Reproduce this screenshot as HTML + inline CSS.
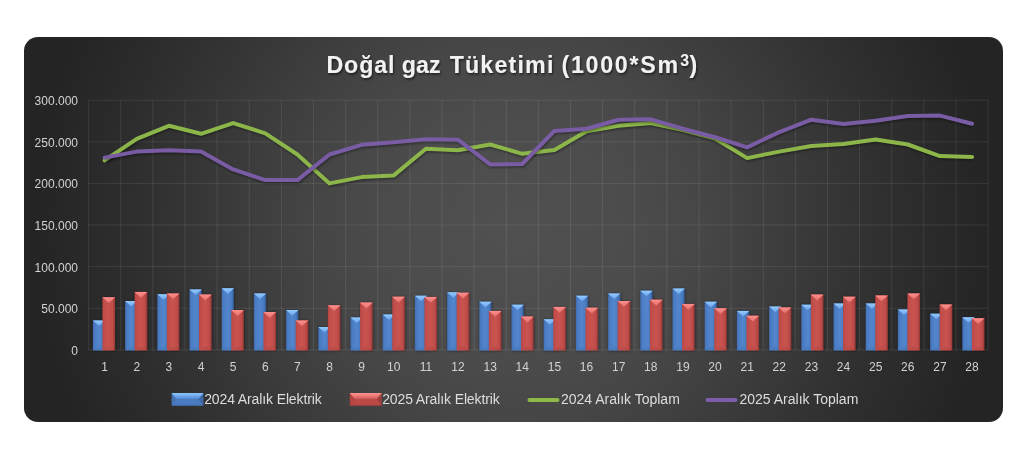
<!DOCTYPE html>
<html><head><meta charset="utf-8"><style>
html,body{margin:0;padding:0;background:#fff;width:1024px;height:471px;overflow:hidden}
svg{display:block;font-family:"Liberation Sans",sans-serif;filter:blur(0.3px)}
.ax text{font-size:12px;fill:#d2d2d2}
.lg text{font-size:14px;fill:#dcdcdc}
.tt{font-size:23.2px;font-weight:bold;fill:#f2f2f2}
</style></head><body>
<svg width="1024" height="471" viewBox="0 0 1024 471">
<defs>
<radialGradient id="bg" gradientUnits="userSpaceOnUse" cx="513.5" cy="229.5" r="480">
<stop offset="0" stop-color="#505050"/>
<stop offset="0.25" stop-color="#4c4c4c"/>
<stop offset="0.4" stop-color="#464646"/>
<stop offset="0.6" stop-color="#3a3a3a"/>
<stop offset="0.8" stop-color="#2e2e2e"/>
<stop offset="1" stop-color="#242424"/>
</radialGradient>
<linearGradient id="bf" x1="0" x2="1" y1="0" y2="0">
<stop offset="0" stop-color="#426fb4"/><stop offset="0.15" stop-color="#4b7cc4"/><stop offset="0.5" stop-color="#5386cc"/><stop offset="0.8" stop-color="#4a7bc2"/><stop offset="0.92" stop-color="#3d68a8"/><stop offset="1" stop-color="#2f5690"/>
</linearGradient>
<linearGradient id="rf" x1="0" x2="1" y1="0" y2="0">
<stop offset="0" stop-color="#b44643"/><stop offset="0.15" stop-color="#c24e4b"/><stop offset="0.5" stop-color="#c9534f"/><stop offset="0.8" stop-color="#bf4d4a"/><stop offset="0.92" stop-color="#a8413e"/><stop offset="1" stop-color="#8e3533"/>
</linearGradient>
<linearGradient id="bl" x1="0" x2="0" y1="0" y2="1">
<stop offset="0" stop-color="#92ccff"/><stop offset="1" stop-color="#6aa2ea"/>
</linearGradient>
<linearGradient id="rl" x1="0" x2="0" y1="0" y2="1">
<stop offset="0" stop-color="#ff8f8c"/><stop offset="1" stop-color="#e4706d"/>
</linearGradient>
<filter id="bsh" x="-5%" y="-5%" width="110%" height="110%"><feDropShadow dx="0.3" dy="0.3" stdDeviation="0.8" flood-color="#000" flood-opacity="0.55"/></filter>
<linearGradient id="bs" x1="0" x2="0" y1="0" y2="1"><stop offset="0" stop-color="#8cc4ff"/><stop offset="0.35" stop-color="#7ab2f4"/><stop offset="1" stop-color="#5288d0"/></linearGradient>
<linearGradient id="rs" x1="0" x2="0" y1="0" y2="1"><stop offset="0" stop-color="#ff8f8d"/><stop offset="0.35" stop-color="#f48280"/><stop offset="1" stop-color="#cc5956"/></linearGradient>
<filter id="gs"><feOffset dx="0" dy="0"/></filter>
<filter id="blur" x="-10%" y="-50%" width="120%" height="200%"><feGaussianBlur stdDeviation="1"/></filter>
<filter id="tsh" x="-5%" y="-30%" width="110%" height="160%"><feDropShadow dx="1" dy="1.5" stdDeviation="1" flood-color="#000" flood-opacity="0.6"/></filter>
</defs>
<rect x="24" y="37" width="979" height="385" rx="14" ry="14" fill="url(#bg)"/>
<path d="M88.60 100.2V349.9 M120.72 100.2V349.9 M152.85 100.2V349.9 M184.97 100.2V349.9 M217.10 100.2V349.9 M249.22 100.2V349.9 M281.35 100.2V349.9 M313.48 100.2V349.9 M345.60 100.2V349.9 M377.73 100.2V349.9 M409.85 100.2V349.9 M441.98 100.2V349.9 M474.10 100.2V349.9 M506.23 100.2V349.9 M538.35 100.2V349.9 M570.48 100.2V349.9 M602.60 100.2V349.9 M634.73 100.2V349.9 M666.85 100.2V349.9 M698.98 100.2V349.9 M731.10 100.2V349.9 M763.23 100.2V349.9 M795.35 100.2V349.9 M827.48 100.2V349.9 M859.60 100.2V349.9 M891.73 100.2V349.9 M923.85 100.2V349.9 M955.98 100.2V349.9 M988.10 100.2V349.9 M88.6 100.20H988.1 M88.6 141.82H988.1 M88.6 183.43H988.1 M88.6 225.05H988.1 M88.6 266.67H988.1 M88.6 308.28H988.1 M88.6 349.90H988.1" stroke="#ffffff" stroke-opacity="0.09" stroke-width="1" fill="none"/><g filter="url(#bsh)"><rect x="92.95" y="320.40" width="12.20" height="30.10" fill="url(#bf)"/><polygon points="92.95,320.40 105.15,320.40 99.05,326.01" fill="url(#bl)"/><polygon points="93.95,350.50 104.15,350.50 99.05,346.01" fill="#000" fill-opacity="0.05"/><rect x="125.15" y="301.00" width="12.20" height="49.50" fill="url(#bf)"/><polygon points="125.15,301.00 137.35,301.00 131.25,306.61" fill="url(#bl)"/><polygon points="126.15,350.50 136.35,350.50 131.25,346.01" fill="#000" fill-opacity="0.05"/><rect x="157.35" y="294.30" width="12.20" height="56.20" fill="url(#bf)"/><polygon points="157.35,294.30 169.55,294.30 163.45,299.91" fill="url(#bl)"/><polygon points="158.35,350.50 168.55,350.50 163.45,346.01" fill="#000" fill-opacity="0.05"/><rect x="189.55" y="289.40" width="12.20" height="61.10" fill="url(#bf)"/><polygon points="189.55,289.40 201.75,289.40 195.65,295.01" fill="url(#bl)"/><polygon points="190.55,350.50 200.75,350.50 195.65,346.01" fill="#000" fill-opacity="0.05"/><rect x="221.75" y="288.30" width="12.20" height="62.20" fill="url(#bf)"/><polygon points="221.75,288.30 233.95,288.30 227.85,293.91" fill="url(#bl)"/><polygon points="222.75,350.50 232.95,350.50 227.85,346.01" fill="#000" fill-opacity="0.05"/><rect x="253.95" y="293.40" width="12.20" height="57.10" fill="url(#bf)"/><polygon points="253.95,293.40 266.15,293.40 260.05,299.01" fill="url(#bl)"/><polygon points="254.95,350.50 265.15,350.50 260.05,346.01" fill="#000" fill-opacity="0.05"/><rect x="286.15" y="310.10" width="12.20" height="40.40" fill="url(#bf)"/><polygon points="286.15,310.10 298.35,310.10 292.25,315.71" fill="url(#bl)"/><polygon points="287.15,350.50 297.35,350.50 292.25,346.01" fill="#000" fill-opacity="0.05"/><rect x="318.35" y="327.00" width="12.20" height="23.50" fill="url(#bf)"/><polygon points="318.35,327.00 330.55,327.00 324.45,332.61" fill="url(#bl)"/><polygon points="319.35,350.50 329.55,350.50 324.45,346.01" fill="#000" fill-opacity="0.05"/><rect x="350.55" y="317.40" width="12.20" height="33.10" fill="url(#bf)"/><polygon points="350.55,317.40 362.75,317.40 356.65,323.01" fill="url(#bl)"/><polygon points="351.55,350.50 361.75,350.50 356.65,346.01" fill="#000" fill-opacity="0.05"/><rect x="382.75" y="314.50" width="12.20" height="36.00" fill="url(#bf)"/><polygon points="382.75,314.50 394.95,314.50 388.85,320.11" fill="url(#bl)"/><polygon points="383.75,350.50 393.95,350.50 388.85,346.01" fill="#000" fill-opacity="0.05"/><rect x="414.95" y="295.70" width="12.20" height="54.80" fill="url(#bf)"/><polygon points="414.95,295.70 427.15,295.70 421.05,301.31" fill="url(#bl)"/><polygon points="415.95,350.50 426.15,350.50 421.05,346.01" fill="#000" fill-opacity="0.05"/><rect x="447.15" y="292.20" width="12.20" height="58.30" fill="url(#bf)"/><polygon points="447.15,292.20 459.35,292.20 453.25,297.81" fill="url(#bl)"/><polygon points="448.15,350.50 458.35,350.50 453.25,346.01" fill="#000" fill-opacity="0.05"/><rect x="479.35" y="301.80" width="12.20" height="48.70" fill="url(#bf)"/><polygon points="479.35,301.80 491.55,301.80 485.45,307.41" fill="url(#bl)"/><polygon points="480.35,350.50 490.55,350.50 485.45,346.01" fill="#000" fill-opacity="0.05"/><rect x="511.55" y="304.70" width="12.20" height="45.80" fill="url(#bf)"/><polygon points="511.55,304.70 523.75,304.70 517.65,310.31" fill="url(#bl)"/><polygon points="512.55,350.50 522.75,350.50 517.65,346.01" fill="#000" fill-opacity="0.05"/><rect x="543.75" y="319.30" width="12.20" height="31.20" fill="url(#bf)"/><polygon points="543.75,319.30 555.95,319.30 549.85,324.91" fill="url(#bl)"/><polygon points="544.75,350.50 554.95,350.50 549.85,346.01" fill="#000" fill-opacity="0.05"/><rect x="575.95" y="295.70" width="12.20" height="54.80" fill="url(#bf)"/><polygon points="575.95,295.70 588.15,295.70 582.05,301.31" fill="url(#bl)"/><polygon points="576.95,350.50 587.15,350.50 582.05,346.01" fill="#000" fill-opacity="0.05"/><rect x="608.15" y="293.50" width="12.20" height="57.00" fill="url(#bf)"/><polygon points="608.15,293.50 620.35,293.50 614.25,299.11" fill="url(#bl)"/><polygon points="609.15,350.50 619.35,350.50 614.25,346.01" fill="#000" fill-opacity="0.05"/><rect x="640.35" y="290.70" width="12.20" height="59.80" fill="url(#bf)"/><polygon points="640.35,290.70 652.55,290.70 646.45,296.31" fill="url(#bl)"/><polygon points="641.35,350.50 651.55,350.50 646.45,346.01" fill="#000" fill-opacity="0.05"/><rect x="672.55" y="288.60" width="12.20" height="61.90" fill="url(#bf)"/><polygon points="672.55,288.60 684.75,288.60 678.65,294.21" fill="url(#bl)"/><polygon points="673.55,350.50 683.75,350.50 678.65,346.01" fill="#000" fill-opacity="0.05"/><rect x="704.75" y="301.80" width="12.20" height="48.70" fill="url(#bf)"/><polygon points="704.75,301.80 716.95,301.80 710.85,307.41" fill="url(#bl)"/><polygon points="705.75,350.50 715.95,350.50 710.85,346.01" fill="#000" fill-opacity="0.05"/><rect x="736.95" y="310.90" width="12.20" height="39.60" fill="url(#bf)"/><polygon points="736.95,310.90 749.15,310.90 743.05,316.51" fill="url(#bl)"/><polygon points="737.95,350.50 748.15,350.50 743.05,346.01" fill="#000" fill-opacity="0.05"/><rect x="769.15" y="306.60" width="12.20" height="43.90" fill="url(#bf)"/><polygon points="769.15,306.60 781.35,306.60 775.25,312.21" fill="url(#bl)"/><polygon points="770.15,350.50 780.35,350.50 775.25,346.01" fill="#000" fill-opacity="0.05"/><rect x="801.35" y="304.70" width="12.20" height="45.80" fill="url(#bf)"/><polygon points="801.35,304.70 813.55,304.70 807.45,310.31" fill="url(#bl)"/><polygon points="802.35,350.50 812.55,350.50 807.45,346.01" fill="#000" fill-opacity="0.05"/><rect x="833.55" y="303.40" width="12.20" height="47.10" fill="url(#bf)"/><polygon points="833.55,303.40 845.75,303.40 839.65,309.01" fill="url(#bl)"/><polygon points="834.55,350.50 844.75,350.50 839.65,346.01" fill="#000" fill-opacity="0.05"/><rect x="865.75" y="303.40" width="12.20" height="47.10" fill="url(#bf)"/><polygon points="865.75,303.40 877.95,303.40 871.85,309.01" fill="url(#bl)"/><polygon points="866.75,350.50 876.95,350.50 871.85,346.01" fill="#000" fill-opacity="0.05"/><rect x="897.95" y="309.40" width="12.20" height="41.10" fill="url(#bf)"/><polygon points="897.95,309.40 910.15,309.40 904.05,315.01" fill="url(#bl)"/><polygon points="898.95,350.50 909.15,350.50 904.05,346.01" fill="#000" fill-opacity="0.05"/><rect x="930.15" y="313.70" width="12.20" height="36.80" fill="url(#bf)"/><polygon points="930.15,313.70 942.35,313.70 936.25,319.31" fill="url(#bl)"/><polygon points="931.15,350.50 941.35,350.50 936.25,346.01" fill="#000" fill-opacity="0.05"/><rect x="962.35" y="317.20" width="12.20" height="33.30" fill="url(#bf)"/><polygon points="962.35,317.20 974.55,317.20 968.45,322.81" fill="url(#bl)"/><polygon points="963.35,350.50 973.55,350.50 968.45,346.01" fill="#000" fill-opacity="0.05"/><rect x="102.45" y="297.30" width="12.60" height="53.20" fill="url(#rf)"/><polygon points="102.45,297.30 115.05,297.30 108.75,303.10" fill="url(#rl)"/><polygon points="103.45,350.50 114.05,350.50 108.75,345.86" fill="#000" fill-opacity="0.05"/><rect x="134.65" y="291.90" width="12.60" height="58.60" fill="url(#rf)"/><polygon points="134.65,291.90 147.25,291.90 140.95,297.70" fill="url(#rl)"/><polygon points="135.65,350.50 146.25,350.50 140.95,345.86" fill="#000" fill-opacity="0.05"/><rect x="166.85" y="293.40" width="12.60" height="57.10" fill="url(#rf)"/><polygon points="166.85,293.40 179.45,293.40 173.15,299.20" fill="url(#rl)"/><polygon points="167.85,350.50 178.45,350.50 173.15,345.86" fill="#000" fill-opacity="0.05"/><rect x="199.05" y="294.60" width="12.60" height="55.90" fill="url(#rf)"/><polygon points="199.05,294.60 211.65,294.60 205.35,300.40" fill="url(#rl)"/><polygon points="200.05,350.50 210.65,350.50 205.35,345.86" fill="#000" fill-opacity="0.05"/><rect x="231.25" y="310.10" width="12.60" height="40.40" fill="url(#rf)"/><polygon points="231.25,310.10 243.85,310.10 237.55,315.90" fill="url(#rl)"/><polygon points="232.25,350.50 242.85,350.50 237.55,345.86" fill="#000" fill-opacity="0.05"/><rect x="263.45" y="312.10" width="12.60" height="38.40" fill="url(#rf)"/><polygon points="263.45,312.10 276.05,312.10 269.75,317.90" fill="url(#rl)"/><polygon points="264.45,350.50 275.05,350.50 269.75,345.86" fill="#000" fill-opacity="0.05"/><rect x="295.65" y="320.40" width="12.60" height="30.10" fill="url(#rf)"/><polygon points="295.65,320.40 308.25,320.40 301.95,326.20" fill="url(#rl)"/><polygon points="296.65,350.50 307.25,350.50 301.95,345.86" fill="#000" fill-opacity="0.05"/><rect x="327.85" y="305.30" width="12.60" height="45.20" fill="url(#rf)"/><polygon points="327.85,305.30 340.45,305.30 334.15,311.10" fill="url(#rl)"/><polygon points="328.85,350.50 339.45,350.50 334.15,345.86" fill="#000" fill-opacity="0.05"/><rect x="360.05" y="302.60" width="12.60" height="47.90" fill="url(#rf)"/><polygon points="360.05,302.60 372.65,302.60 366.35,308.40" fill="url(#rl)"/><polygon points="361.05,350.50 371.65,350.50 366.35,345.86" fill="#000" fill-opacity="0.05"/><rect x="392.25" y="296.70" width="12.60" height="53.80" fill="url(#rf)"/><polygon points="392.25,296.70 404.85,296.70 398.55,302.50" fill="url(#rl)"/><polygon points="393.25,350.50 403.85,350.50 398.55,345.86" fill="#000" fill-opacity="0.05"/><rect x="424.45" y="296.90" width="12.60" height="53.60" fill="url(#rf)"/><polygon points="424.45,296.90 437.05,296.90 430.75,302.70" fill="url(#rl)"/><polygon points="425.45,350.50 436.05,350.50 430.75,345.86" fill="#000" fill-opacity="0.05"/><rect x="456.65" y="292.70" width="12.60" height="57.80" fill="url(#rf)"/><polygon points="456.65,292.70 469.25,292.70 462.95,298.50" fill="url(#rl)"/><polygon points="457.65,350.50 468.25,350.50 462.95,345.86" fill="#000" fill-opacity="0.05"/><rect x="488.85" y="310.90" width="12.60" height="39.60" fill="url(#rf)"/><polygon points="488.85,310.90 501.45,310.90 495.15,316.70" fill="url(#rl)"/><polygon points="489.85,350.50 500.45,350.50 495.15,345.86" fill="#000" fill-opacity="0.05"/><rect x="521.05" y="316.60" width="12.60" height="33.90" fill="url(#rf)"/><polygon points="521.05,316.60 533.65,316.60 527.35,322.40" fill="url(#rl)"/><polygon points="522.05,350.50 532.65,350.50 527.35,345.86" fill="#000" fill-opacity="0.05"/><rect x="553.25" y="306.90" width="12.60" height="43.60" fill="url(#rf)"/><polygon points="553.25,306.90 565.85,306.90 559.55,312.70" fill="url(#rl)"/><polygon points="554.25,350.50 564.85,350.50 559.55,345.86" fill="#000" fill-opacity="0.05"/><rect x="585.45" y="307.70" width="12.60" height="42.80" fill="url(#rf)"/><polygon points="585.45,307.70 598.05,307.70 591.75,313.50" fill="url(#rl)"/><polygon points="586.45,350.50 597.05,350.50 591.75,345.86" fill="#000" fill-opacity="0.05"/><rect x="617.65" y="301.00" width="12.60" height="49.50" fill="url(#rf)"/><polygon points="617.65,301.00 630.25,301.00 623.95,306.80" fill="url(#rl)"/><polygon points="618.65,350.50 629.25,350.50 623.95,345.86" fill="#000" fill-opacity="0.05"/><rect x="649.85" y="299.70" width="12.60" height="50.80" fill="url(#rf)"/><polygon points="649.85,299.70 662.45,299.70 656.15,305.50" fill="url(#rl)"/><polygon points="650.85,350.50 661.45,350.50 656.15,345.86" fill="#000" fill-opacity="0.05"/><rect x="682.05" y="303.90" width="12.60" height="46.60" fill="url(#rf)"/><polygon points="682.05,303.90 694.65,303.90 688.35,309.70" fill="url(#rl)"/><polygon points="683.05,350.50 693.65,350.50 688.35,345.86" fill="#000" fill-opacity="0.05"/><rect x="714.25" y="308.20" width="12.60" height="42.30" fill="url(#rf)"/><polygon points="714.25,308.20 726.85,308.20 720.55,314.00" fill="url(#rl)"/><polygon points="715.25,350.50 725.85,350.50 720.55,345.86" fill="#000" fill-opacity="0.05"/><rect x="746.45" y="315.80" width="12.60" height="34.70" fill="url(#rf)"/><polygon points="746.45,315.80 759.05,315.80 752.75,321.60" fill="url(#rl)"/><polygon points="747.45,350.50 758.05,350.50 752.75,345.86" fill="#000" fill-opacity="0.05"/><rect x="778.65" y="307.40" width="12.60" height="43.10" fill="url(#rf)"/><polygon points="778.65,307.40 791.25,307.40 784.95,313.20" fill="url(#rl)"/><polygon points="779.65,350.50 790.25,350.50 784.95,345.86" fill="#000" fill-opacity="0.05"/><rect x="810.85" y="294.60" width="12.60" height="55.90" fill="url(#rf)"/><polygon points="810.85,294.60 823.45,294.60 817.15,300.40" fill="url(#rl)"/><polygon points="811.85,350.50 822.45,350.50 817.15,345.86" fill="#000" fill-opacity="0.05"/><rect x="843.05" y="296.70" width="12.60" height="53.80" fill="url(#rf)"/><polygon points="843.05,296.70 855.65,296.70 849.35,302.50" fill="url(#rl)"/><polygon points="844.05,350.50 854.65,350.50 849.35,345.86" fill="#000" fill-opacity="0.05"/><rect x="875.25" y="295.40" width="12.60" height="55.10" fill="url(#rf)"/><polygon points="875.25,295.40 887.85,295.40 881.55,301.20" fill="url(#rl)"/><polygon points="876.25,350.50 886.85,350.50 881.55,345.86" fill="#000" fill-opacity="0.05"/><rect x="907.45" y="293.50" width="12.60" height="57.00" fill="url(#rf)"/><polygon points="907.45,293.50 920.05,293.50 913.75,299.30" fill="url(#rl)"/><polygon points="908.45,350.50 919.05,350.50 913.75,345.86" fill="#000" fill-opacity="0.05"/><rect x="939.65" y="304.50" width="12.60" height="46.00" fill="url(#rf)"/><polygon points="939.65,304.50 952.25,304.50 945.95,310.30" fill="url(#rl)"/><polygon points="940.65,350.50 951.25,350.50 945.95,345.86" fill="#000" fill-opacity="0.05"/><rect x="971.85" y="318.20" width="12.60" height="32.30" fill="url(#rf)"/><polygon points="971.85,318.20 984.45,318.20 978.15,324.00" fill="url(#rl)"/><polygon points="972.85,350.50 983.45,350.50 978.15,345.86" fill="#000" fill-opacity="0.05"/></g><polyline points="104.66,160.40 136.79,138.90 168.91,125.80 201.04,133.80 233.16,123.10 265.29,133.30 297.41,154.50 329.54,183.40 361.66,177.10 393.79,175.40 425.91,148.70 458.04,150.30 490.16,144.50 522.29,153.80 554.41,149.90 586.54,131.20 618.66,125.80 650.79,123.10 682.91,130.00 715.04,138.50 747.16,158.10 779.29,151.60 811.41,146.00 843.54,144.00 875.66,139.60 907.79,144.50 939.91,156.10 972.04,156.90" fill="none" stroke="#000" stroke-opacity="0.35" stroke-width="4.2" stroke-linejoin="round" transform="translate(0.8,1.5)" filter="url(#blur)"/><polyline points="104.66,160.40 136.79,138.90 168.91,125.80 201.04,133.80 233.16,123.10 265.29,133.30 297.41,154.50 329.54,183.40 361.66,177.10 393.79,175.40 425.91,148.70 458.04,150.30 490.16,144.50 522.29,153.80 554.41,149.90 586.54,131.20 618.66,125.80 650.79,123.10 682.91,130.00 715.04,138.50 747.16,158.10 779.29,151.60 811.41,146.00 843.54,144.00 875.66,139.60 907.79,144.50 939.91,156.10 972.04,156.90" fill="none" stroke="#8cb64a" stroke-width="4" stroke-linejoin="round" stroke-linecap="round"/><polyline points="104.66,157.60 136.79,151.60 168.91,150.30 201.04,151.60 233.16,169.40 265.29,180.10 297.41,180.10 329.54,154.50 361.66,144.80 393.79,142.30 425.91,139.20 458.04,139.70 490.16,164.40 522.29,164.00 554.41,130.90 586.54,128.70 618.66,119.70 650.79,119.30 682.91,128.70 715.04,137.20 747.16,147.40 779.29,132.10 811.41,119.70 843.54,123.90 875.66,120.70 907.79,116.10 939.91,115.60 972.04,123.80" fill="none" stroke="#000" stroke-opacity="0.35" stroke-width="4.2" stroke-linejoin="round" transform="translate(0.8,1.5)" filter="url(#blur)"/><polyline points="104.66,157.60 136.79,151.60 168.91,150.30 201.04,151.60 233.16,169.40 265.29,180.10 297.41,180.10 329.54,154.50 361.66,144.80 393.79,142.30 425.91,139.20 458.04,139.70 490.16,164.40 522.29,164.00 554.41,130.90 586.54,128.70 618.66,119.70 650.79,119.30 682.91,128.70 715.04,137.20 747.16,147.40 779.29,132.10 811.41,119.70 843.54,123.90 875.66,120.70 907.79,116.10 939.91,115.60 972.04,123.80" fill="none" stroke="#7a5ca5" stroke-width="4" stroke-linejoin="round" stroke-linecap="round"/><g class="ax" filter="url(#gs)"><text x="78" y="105.2" text-anchor="end">300.000</text><text x="78" y="146.8" text-anchor="end">250.000</text><text x="78" y="188.4" text-anchor="end">200.000</text><text x="78" y="230.0" text-anchor="end">150.000</text><text x="78" y="271.7" text-anchor="end">100.000</text><text x="78" y="313.3" text-anchor="end">50.000</text><text x="78" y="354.9" text-anchor="end">0</text></g><g class="ax" filter="url(#gs)"><text x="104.7" y="371" text-anchor="middle">1</text><text x="136.8" y="371" text-anchor="middle">2</text><text x="168.9" y="371" text-anchor="middle">3</text><text x="201.0" y="371" text-anchor="middle">4</text><text x="233.2" y="371" text-anchor="middle">5</text><text x="265.3" y="371" text-anchor="middle">6</text><text x="297.4" y="371" text-anchor="middle">7</text><text x="329.5" y="371" text-anchor="middle">8</text><text x="361.7" y="371" text-anchor="middle">9</text><text x="393.8" y="371" text-anchor="middle">10</text><text x="425.9" y="371" text-anchor="middle">11</text><text x="458.0" y="371" text-anchor="middle">12</text><text x="490.2" y="371" text-anchor="middle">13</text><text x="522.3" y="371" text-anchor="middle">14</text><text x="554.4" y="371" text-anchor="middle">15</text><text x="586.5" y="371" text-anchor="middle">16</text><text x="618.7" y="371" text-anchor="middle">17</text><text x="650.8" y="371" text-anchor="middle">18</text><text x="682.9" y="371" text-anchor="middle">19</text><text x="715.0" y="371" text-anchor="middle">20</text><text x="747.2" y="371" text-anchor="middle">21</text><text x="779.3" y="371" text-anchor="middle">22</text><text x="811.4" y="371" text-anchor="middle">23</text><text x="843.5" y="371" text-anchor="middle">24</text><text x="875.7" y="371" text-anchor="middle">25</text><text x="907.8" y="371" text-anchor="middle">26</text><text x="939.9" y="371" text-anchor="middle">27</text><text x="972.0" y="371" text-anchor="middle">28</text></g><rect x="171.6" y="393" width="31.8" height="12.9" fill="#4a7bc0"/><polygon points="171.6,393 176.6,399.45 171.6,405.9" fill="#000" fill-opacity="0.06"/><polygon points="203.4,393 198.4,399.45 203.4,405.9" fill="#000" fill-opacity="0.14"/><polygon points="171.6,393 203.4,393 198.4,398.934 176.6,398.934" fill="url(#bs)"/><rect x="171.6" y="404.7" width="31.8" height="1.2" fill="#000" fill-opacity="0.12"/><rect x="349.8" y="393" width="31.9" height="12.9" fill="#bb4946"/><polygon points="349.8,393 354.8,399.45 349.8,405.9" fill="#000" fill-opacity="0.06"/><polygon points="381.7,393 376.7,399.45 381.7,405.9" fill="#000" fill-opacity="0.14"/><polygon points="349.8,393 381.7,393 376.7,398.934 354.8,398.934" fill="url(#rs)"/><rect x="349.8" y="404.7" width="31.9" height="1.2" fill="#000" fill-opacity="0.12"/><line x1="529.5" y1="400" x2="557.5" y2="400" stroke="#8dba47" stroke-width="4" stroke-linecap="round"/><line x1="707.5" y1="400" x2="735.5" y2="400" stroke="#7d5daa" stroke-width="4" stroke-linecap="round"/><g class="lg" filter="url(#gs)"><text x="204.2" y="403.9" textLength="117.5" lengthAdjust="spacing">2024 Aralık Elektrik</text><text x="382.2" y="403.9" textLength="117.5" lengthAdjust="spacing">2025 Aralık Elektrik</text><text x="561" y="403.9">2024 Aralık Toplam</text><text x="739.5" y="403.9">2025 Aralık Toplam</text></g><g class="tt" filter="url(#tsh)"><text x="326.46" y="72.7" font-size="23.2" textLength="67.96" lengthAdjust="spacing">Doğal</text><text x="401.80" y="72.7" font-size="23.2" textLength="38.86" lengthAdjust="spacing">gaz</text><text x="449.64" y="72.7" font-size="23.2" textLength="103.70" lengthAdjust="spacing">Tüketimi</text><text x="561.46" y="72.7" font-size="23.2" textLength="116.54" lengthAdjust="spacing">(1000*Sm</text><text x="680.26" y="65.9" font-size="15.8">3</text><text x="689.60" y="72.7" font-size="23.2">)</text></g>
</svg>
</body></html>
